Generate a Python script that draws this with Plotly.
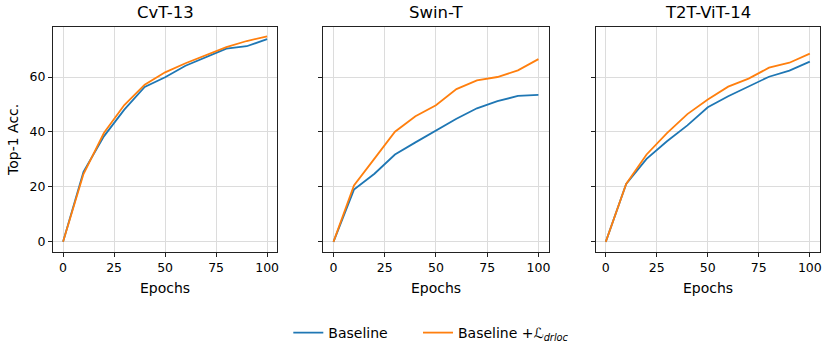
import plotly.graph_objects as go
from plotly.subplots import make_subplots

epochs = [0, 10, 20, 30, 40, 50, 60, 70, 80, 90, 100]

cvt_base = [0, 25.5, 38.4, 48.1, 56.4, 59.9, 64.1, 67.2, 70.3, 71.2, 73.8]
cvt_drloc = [0, 24.7, 39.6, 49.8, 57.2, 61.7, 65.0, 68.0, 70.9, 73.1, 74.8]

swin_base = [0, 19.0, 24.8, 31.8, 36.2, 40.5, 44.8, 48.6, 51.2, 53.1, 53.5]
swin_drloc = [0, 20.5, 30.3, 40.1, 45.7, 49.7, 55.6, 58.8, 60.0, 62.4, 66.5]

t2t_base = [0, 21.1, 30.2, 36.6, 42.4, 49.0, 53.0, 56.6, 60.1, 62.3, 65.6]
t2t_drloc = [0, 21.1, 31.8, 39.6, 46.5, 51.8, 56.5, 59.4, 63.4, 65.2, 68.5]

titles = ["CvT-13", "Swin-T", "T2T-ViT-14"]
panels = [(cvt_base, cvt_drloc), (swin_base, swin_drloc), (t2t_base, t2t_drloc)]

W, H = 831, 351
blue = "#1f77b4"
orange = "#ff7f0e"
font = "DejaVu Sans"

fig = make_subplots(rows=1, cols=3, shared_yaxes=True)

for i, (base, drloc) in enumerate(panels):
    fig.add_trace(go.Scatter(x=epochs, y=base, mode="lines", name="Baseline",
                             line=dict(color=blue, width=1.8),
                             legend="legend", showlegend=(i == 0)), row=1, col=i + 1)
    fig.add_trace(go.Scatter(x=epochs, y=drloc, mode="lines",
                             name="Baseline +<i>ℒ</i><sub><i>drloc</i></sub>",
                             line=dict(color=orange, width=1.8),
                             legend="legend2", showlegend=(i == 0)), row=1, col=i + 1)

# axes positions in pixels (left, right)
x_px = [(53, 278), (324, 550), (597, 822)]
y_top, y_bot = 27, 252

for i, (l, r) in enumerate(x_px):
    n = "" if i == 0 else str(i + 1)
    fig.layout["xaxis" + n].update(
        domain=[l / W, r / W], range=[-5, 105],
        tickvals=[0, 25, 50, 75, 100],
    )
    fig.layout["yaxis" + n].update(
        domain=[1 - y_bot / H, 1 - y_top / H], range=[-3.7, 78.2],
        tickvals=[0, 20, 40, 60],
        showticklabels=(i == 0),
    )
    fig.add_annotation(text=titles[i], x=(l + r) / 2 / W, y=1 - 13 / H,
                       xref="paper", yref="paper", showarrow=False,
                       xanchor="center", yanchor="middle",
                       font=dict(size=16.5, color="black", family=font))
    fig.add_annotation(text="Epochs", x=(l + r) / 2 / W, y=1 - 288 / H,
                       xref="paper", yref="paper", showarrow=False,
                       xanchor="center", yanchor="middle",
                       font=dict(size=14, color="black", family=font))

fig.add_annotation(text="Top-1 Acc.", x=13 / W, y=1 - 140 / H,
                   xref="paper", yref="paper", showarrow=False, textangle=-90,
                   xanchor="center", yanchor="middle",
                   font=dict(size=14, color="black", family=font))

fig.update_xaxes(showline=True, linecolor="#222", linewidth=1, mirror=True,
                 ticks="outside", ticklen=4, tickcolor="#222",
                 showgrid=True, gridcolor="#dcdcdc", gridwidth=1,
                 zeroline=False, tickfont=dict(size=12.5, color="black"))
fig.update_yaxes(showline=True, linecolor="#222", linewidth=1, mirror=True,
                 ticks="outside", ticklen=4, tickcolor="#222",
                 showgrid=True, gridcolor="#dcdcdc", gridwidth=1,
                 zeroline=False, tickfont=dict(size=12.5, color="black"))

leg = dict(orientation="h", xanchor="left", y=1 - 317 / H, yanchor="top",
           font=dict(size=14), itemwidth=30)

fig.update_layout(
    width=W, height=H,
    margin=dict(l=0, r=0, t=0, b=0),
    paper_bgcolor="white", plot_bgcolor="white",
    font=dict(family=font, color="black"),
    legend=dict(leg, x=289 / W),
    legend2=dict(leg, x=419 / W),
)

# the page body has an 8px default margin; drop it so the figure sits at 0,0
fig.write_html("out.html", config={"displayModeBar": False},
               post_script="document.body.style.margin='0';")
